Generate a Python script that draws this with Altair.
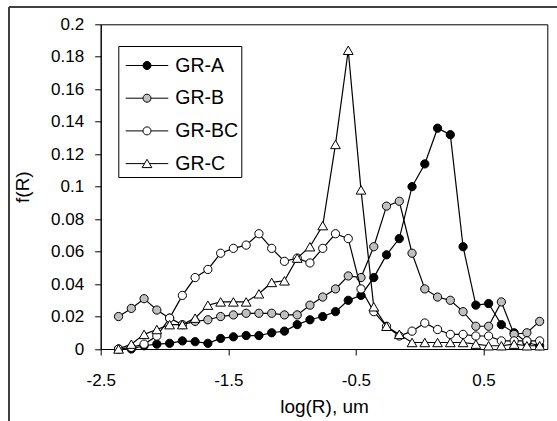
import altair as alt
import pandas as pd

series_names = ["GR-A", "GR-B", "GR-BC", "GR-C"]

log_r = [-2.36, -2.26, -2.16, -2.06, -1.96, -1.86, -1.76, -1.66, -1.56, -1.46,
         -1.36, -1.26, -1.16, -1.06, -0.96, -0.86, -0.76, -0.66, -0.56, -0.46,
         -0.36, -0.26, -0.16, -0.06, 0.04, 0.14, 0.24, 0.34, 0.44, 0.54,
         0.64, 0.74, 0.84, 0.94]

gr_a = [0.000, 0.000, 0.002, 0.003, 0.0035, 0.005, 0.0045, 0.0035, 0.0065, 0.0075,
        0.0083, 0.0083, 0.010, 0.011, 0.015, 0.018, 0.020, 0.023, 0.030, 0.033,
        0.044, 0.058, 0.068, 0.100, 0.114, 0.136, 0.132, 0.063, 0.027, 0.028,
        0.015, 0.010, 0.004, 0.002]
gr_b = [0.020, 0.025, 0.031, 0.024, 0.019, 0.015, 0.017, 0.018, 0.020, 0.021,
        0.022, 0.022, 0.022, 0.021, 0.021, 0.027, 0.032, 0.037, 0.045, 0.044,
        0.063, 0.088, 0.091, 0.059, 0.037, 0.032, 0.030, 0.023, 0.014, 0.014,
        0.029, 0.009, 0.010, 0.017]
gr_bc = [0.000, 0.001, 0.003, 0.008, 0.019, 0.033, 0.044, 0.049, 0.059, 0.062,
         0.064, 0.071, 0.062, 0.054, 0.056, 0.053, 0.062, 0.071, 0.068, 0.037,
         0.023, 0.014, 0.008, 0.011, 0.016, 0.012, 0.009, 0.009, 0.008, 0.008,
         0.005, 0.005, 0.005, 0.005]
gr_c = [0.000, 0.003, 0.009, 0.012, 0.015, 0.015, 0.019, 0.027, 0.029, 0.029,
        0.029, 0.034, 0.041, 0.042, 0.056, 0.063, 0.076, 0.126, 0.184, 0.098,
        0.026, 0.014, 0.009, 0.004, 0.004, 0.004, 0.004, 0.004, 0.003, 0.002,
        0.002, 0.003, 0.002, 0.002]

x_ticks = [-2.5, -1.5, -0.5, 0.5]
y_ticks = [0, 0.02, 0.04, 0.06, 0.08, 0.1, 0.12, 0.14, 0.16, 0.18, 0.2]

fills = ["#000000", "#c0c0c0", "#ffffff", "#ffffff"]
marker_shapes = ["circle", "circle", "circle", "triangle-up"]
marker_sizes = [68, 68, 68, 95]
legend_paths = [
    "M-1.33,0L-0.25,0M0.25,0L1.33,0M-0.25,0A0.25,0.25,0,1,1,0.25,0A0.25,0.25,0,1,1,-0.25,0Z",
    "M-1.33,0L-0.25,0M0.25,0L1.33,0M-0.25,0A0.25,0.25,0,1,1,0.25,0A0.25,0.25,0,1,1,-0.25,0Z",
    "M-1.33,0L-0.25,0M0.25,0L1.33,0M-0.25,0A0.25,0.25,0,1,1,0.25,0A0.25,0.25,0,1,1,-0.25,0Z",
    "M-1.33,0L-0.16,0M0.16,0L1.33,0M0,-0.27L0.3,0.25L-0.3,0.25Z",
]

rows = []
for name, vals in zip(series_names, [gr_a, gr_b, gr_bc, gr_c]):
    for xv, fv in zip(log_r, vals):
        rows.append({"logR": xv, "f": fv, "series": name})
df = pd.DataFrame(rows)

FONT = "Liberation Sans"

x_enc = alt.X(
    "logR:Q",
    scale=alt.Scale(domain=[-2.5, 1.0], nice=False, zero=False),
    axis=alt.Axis(
        values=x_ticks,
        title="log(R), um",
        labelExpr="datum.value < 0 ? '-' + format(-datum.value, '.1f') : format(datum.value, '.1f')",
        grid=False,
        tickSize=6,
        labelPadding=17,
        titlePadding=9,
        labelFlush=False,
    ),
)
y_enc = alt.Y(
    "f:Q",
    scale=alt.Scale(domain=[0, 0.2], nice=False, zero=True),
    axis=alt.Axis(
        values=y_ticks,
        format=".2~f",
        title="f(R)",
        grid=False,
        tickSize=6,
        labelPadding=11,
        titlePadding=18,
        labelFlush=False,
    ),
)

layers = []
for name, fill, shp, sz in zip(series_names, fills, marker_shapes, marker_sizes):
    base = alt.Chart(df).transform_filter(alt.datum.series == name)
    layers.append(
        base.mark_line(color="black", strokeWidth=1.2).encode(x=x_enc, y=y_enc)
    )
    layers.append(
        base.mark_point(
            filled=True, fill=fill, stroke="black", strokeWidth=1,
            shape=shp, size=sz, opacity=1,
        ).encode(x=x_enc, y=y_enc)
    )

leg = alt.Legend(
    title=None,
    orient="none",
    legendX=17.6,
    legendY=21.7,
    fillColor="white",
    strokeColor="black",
    padding=3,
    symbolSize=1024,
    symbolStrokeWidth=1,
    symbolOffset=9.2,
    labelOffset=11.8,
    rowPadding=6.7,
    labelFont=FONT,
    labelFontSize=19.5,
    labelColor="black",
)

legend_layer = (
    alt.Chart(df)
    .transform_filter("false")
    .transform_calculate(lg="datum.series")
    .mark_point(filled=True, stroke="black", strokeWidth=1, opacity=1)
    .encode(
        shape=alt.Shape("lg:N", scale=alt.Scale(domain=series_names, range=legend_paths), legend=leg),
        fill=alt.Fill("lg:N", scale=alt.Scale(domain=series_names, range=fills), legend=leg),
    )
)

frame_df = pd.DataFrame({"k": [0]})
frame_left = alt.Chart(frame_df).mark_rule(color="#404040", strokeWidth=2).encode(
    x=alt.value(-91.7), y=alt.value(-17.3), y2=alt.value(400)
)
frame_top = alt.Chart(frame_df).mark_rule(color="#404040", strokeWidth=2).encode(
    x=alt.value(-91.7), x2=alt.value(460), y=alt.value(-17.3)
)

chart = (
    alt.layer(*layers, legend_layer, frame_left, frame_top)
    .properties(
        width=446.6,
        height=324.7,
        autosize=alt.AutoSizeParams(type="none"),
        padding={"left": 100.7, "top": 24.3, "right": 9.7, "bottom": 72},
        background="white",
    )
    .configure_view(stroke="black", strokeWidth=1)
    .configure_axis(
        domainColor="black",
        domainWidth=1,
        tickColor="black",
        tickWidth=1,
        labelColor="black",
        titleColor="black",
        labelFont=FONT,
        titleFont=FONT,
        labelFontSize=17,
        titleFontSize=19,
        titleFontWeight="normal",
    )
)

chart.save("out.html", embed_options={"renderer": "svg", "actions": False})
